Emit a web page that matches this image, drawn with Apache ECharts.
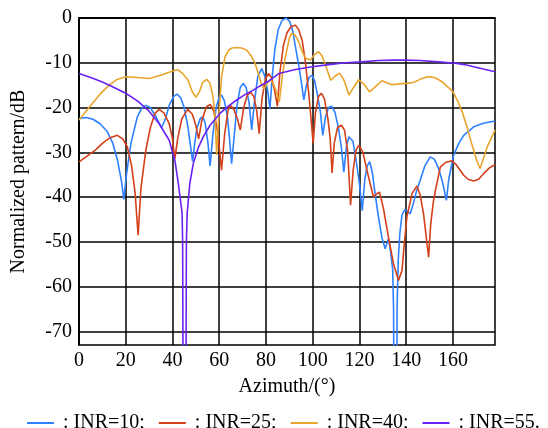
<!DOCTYPE html>
<html>
<head>
<meta charset="utf-8">
<script src="https://cdn.jsdelivr.net/npm/echarts@6/dist/echarts.min.js"></script>
<style>html,body{margin:0;padding:0;background:#fff;}#c{width:548px;height:428px;}</style>
</head>
<body>
<div id="c"></div>
<script>
const seriesNames = [': INR=10;', ': INR=25;', ': INR=40;', ': INR=55.'];
const xTicks = [0, 20, 40, 60, 80, 100, 120, 140, 160];
const yTicks = [0, -10, -20, -30, -40, -50, -60, -70];

const inr10 = [[0,-22.4],[3,-22.2],[6,-22.6],[9,-23.6],[12,-25.3],[14.5,-28],[16.5,-31.8],[18.2,-36.5],[19.2,-40.5],[20.3,-35],[22.2,-28],[25,-22],[27,-20],[28.6,-19.5],[30.5,-20],[32.9,-22],[35.3,-24.5],[37,-22.5],[38.6,-19.5],[40.5,-17.5],[42,-17],[43.5,-17.8],[45,-20],[46.5,-24],[47.7,-28.5],[48.6,-32],[49.5,-28],[50.5,-24.5],[52,-22.3],[53,-22.1],[54,-23.5],[55.2,-28],[56.1,-33],[57.3,-26],[58.7,-20],[60,-17.6],[61,-17.2],[62.2,-18.5],[63.5,-22],[64.5,-27.5],[65.3,-32.5],[66.3,-27],[67.6,-19.5],[69,-15.5],[70.3,-14.6],[71.5,-15.5],[72.8,-19],[73.9,-25],[75,-19],[76.5,-13],[78.2,-11.3],[79.5,-13],[80.8,-16.5],[81.7,-20.2],[82.7,-13],[83.8,-7],[85.3,-2.5],[86.8,-0.6],[88.6,0],[90.2,-0.8],[91.5,-3],[92.6,-6.4],[94,-10.5],[95.2,-14.5],[96.2,-18.3],[97.3,-15],[98.5,-13.2],[99.7,-12.8],[100.8,-14],[102,-17],[103.3,-21],[104.3,-26.2],[105.5,-22],[106.8,-20],[108.1,-19.7],[109.5,-21],[111,-24.5],[112.3,-29],[113.3,-34.4],[114.5,-28.5],[115.5,-26.5],[116.2,-26.2],[117.2,-27.5],[118.5,-31.5],[120,-37],[121.2,-43],[122.3,-36],[123.3,-33],[124.4,-32.1],[125.5,-34.5],[126.7,-39.2],[128,-44],[129.6,-49],[131,-51.5],[132.4,-49.3],[133.3,-52],[134.2,-56],[134.6,-65],[134.7,-80],[135.35,-120],[136.0,-80],[136.1,-65],[136.6,-54],[137.3,-48],[138.2,-44],[139.3,-42.8],[140.3,-43],[141.7,-43.7],[143,-41.5],[144.5,-38.5],[146,-36.2],[148,-33],[150.3,-31],[152,-31.5],[153.8,-33.5],[155.5,-36.5],[157.2,-40.7],[158.2,-36],[160.3,-30.6],[162.5,-28],[164.6,-26.2],[168.9,-24.3],[173,-23.5],[178,-23]];

const inr25 = [[0,-32.1],[3,-31],[7,-29.5],[10,-28],[13,-26.8],[16.4,-26.2],[18.7,-27],[20.7,-28.8],[22.5,-33],[24,-39],[25.3,-48.5],[26.5,-38],[28.6,-29.5],[30.5,-24.5],[32.5,-21.3],[34.3,-20.4],[36.3,-21.2],[38.6,-23.6],[40,-27],[41,-31.5],[42.2,-27],[44,-22.5],[46.5,-20.4],[48.5,-21.5],[50,-24],[51.2,-27],[52.5,-23],[54.5,-19.8],[56.2,-19.3],[57.8,-21],[59.5,-26],[61,-34],[62.3,-26],[63.8,-20.5],[64.9,-19.5],[66.3,-20.5],[67.8,-22.5],[69,-25],[70.5,-20],[72,-17.2],[73.4,-16.6],[74.8,-17.5],[76,-20.5],[77.1,-25.8],[78.3,-18],[79.8,-13.5],[81.2,-12.4],[82.5,-13.5],[83.8,-16.5],[84.9,-19.7],[86,-12],[87.5,-6],[89,-3.3],[90.8,-1.9],[92.6,-1.6],[94,-2.6],[95.5,-5],[96.8,-9.5],[98.3,-16.8],[99.2,-22],[100.2,-28],[101.2,-21],[102.5,-17.5],[103.7,-16.8],[105,-18],[106.5,-22.5],[107.5,-27],[108.3,-34.6],[109.2,-28],[110.6,-24.5],[112.2,-23.9],[113.6,-25],[115,-30],[116.2,-41.8],[117.3,-34],[118.5,-29.5],[119.8,-28.4],[121.5,-30],[123,-33.5],[124.6,-37],[126,-40],[127.3,-39.3],[128.6,-38.9],[130.3,-42.6],[132.4,-48.9],[134.6,-54.9],[136.7,-58.6],[138.2,-56.4],[139.2,-50.4],[140.3,-44.4],[142.5,-39.2],[144.6,-37.5],[146,-39.5],[147.5,-44],[148.7,-49.5],[149.6,-53.4],[150.5,-46],[151.5,-41.5],[152.5,-38.5],[154.6,-33.3],[157,-32.2],[159.6,-31.9],[161.5,-32.8],[164.6,-35.1],[166.5,-36],[168.9,-36.4],[171,-36],[173.2,-34.7],[175.5,-33.5],[178,-32.7]];

const inr40 = [[0,-22.8],[3,-20.8],[5.7,-19.1],[9,-17],[12.9,-15],[16,-13.8],[20,-13.1],[25,-13.3],[30,-13.5],[35,-12.8],[38,-12.2],[41.4,-11.6],[42.4,-11.6],[44.5,-12.5],[46.7,-13.9],[48.5,-16.5],[50,-17.7],[51.5,-16.5],[53,-14.3],[54.6,-13.7],[56,-14.5],[57.3,-17.5],[58.2,-22],[58.9,-30.6],[59.8,-22],[61,-13.1],[62.5,-8.6],[64,-7.2],[65.5,-6.7],[67.5,-6.6],[69.5,-6.7],[71.8,-7.2],[73.5,-8.3],[75.3,-10.1],[76.8,-12.5],[78.2,-15],[79.3,-15.8],[80.5,-14.5],[81.8,-13.8],[83,-14.5],[84.5,-16.5],[85.7,-18.7],[87,-13],[88,-9.5],[89,-7],[90,-4.5],[90.9,-3.4],[92.5,-3.8],[94,-5.3],[95.5,-7.5],[97,-9],[99,-9.4],[100.5,-8.3],[102.5,-7.5],[104,-8.5],[105.8,-11],[107.7,-13.9],[109.5,-13],[111.5,-12.3],[113.5,-14],[115.5,-17.2],[117.5,-15.5],[119.7,-13.8],[122,-14.8],[124.3,-16.5],[126.5,-15.5],[129.6,-14],[132,-14.5],[134,-14.9],[137,-14.7],[140,-14.6],[143,-14.4],[146,-13.7],[148.5,-13.2],[150.7,-13.1],[153,-13.5],[155.5,-14.3],[158,-15.5],[160,-16.5],[162,-18.5],[164,-21],[166,-24.3],[168,-28],[170,-31.5],[171.6,-33.6],[173,-31.5],[174.5,-29],[176,-27.3],[178,-25]];

const inr55 = [[0,-12.4],[5,-13.3],[10,-14.3],[15,-15.5],[20,-16.8],[25,-18.5],[30,-20.8],[34.3,-23.6],[38.6,-27.3],[41.1,-32],[42.5,-37],[43.5,-41],[44.1,-43.5],[44.35,-50],[44.5,-75],[45.15,-120],[45.8,-75],[45.95,-50],[46.3,-43.5],[47.4,-37],[48.9,-32.5],[51,-29],[53.1,-26.6],[56,-24],[60.3,-21.3],[64,-19.6],[67.5,-18.3],[71,-17.1],[74.6,-16.1],[78,-15],[81.4,-14],[85.5,-12.4],[92.6,-11.5],[99.7,-10.9],[106.9,-10.4],[114,-10],[120.9,-9.8],[128,-9.5],[135,-9.4],[139.6,-9.4],[146,-9.5],[153.9,-9.8],[161,-10.1],[165,-10.4],[168.9,-10.9],[173,-11.4],[178,-12]];

const colors = ['#2f80ff', '#d4401a', '#e8a42c', '#6a22f5'];
const allData = [inr10, inr25, inr40, inr55];
const FONT = 'Liberation Serif';

const chart = echarts.init(document.getElementById('c'), null, {renderer: 'canvas'});
chart.setOption({
  animation: false,
  backgroundColor: '#fff',
  color: colors,
  grid: {left: 79, top: 18, right: 53, bottom: 83, show: true, borderColor: '#000', borderWidth: 1.5, backgroundColor: 'transparent'},
  legend: {
    left: 22, top: 408, itemWidth: 27, itemHeight: 2, itemGap: 14, icon: 'rect',
    textStyle: {fontFamily: FONT, fontSize: 20, color: '#000', padding: [0,0,0,4]},
    data: seriesNames
  },
  xAxis: {
    type: 'value', min: 0, max: 178,
    name: 'Azimuth/(°)', nameLocation: 'middle', nameGap: 32,
    nameTextStyle: {fontFamily: FONT, fontSize: 20, color: '#000'},
    axisLine: {show: true, lineStyle: {color: '#000', width: 1.5}},
    axisTick: {show: false, customValues: xTicks},
    axisLabel: {customValues: xTicks, fontFamily: FONT, fontSize: 20, color: '#000', margin: 6},
    splitLine: {show: true, lineStyle: {color: '#000', width: 1.5}}
  },
  yAxis: {
    type: 'value', min: -73, max: 0,
    name: 'Normalized pattern/dB', nameLocation: 'middle', nameGap: 50,
    nameTextStyle: {fontFamily: FONT, fontSize: 20, color: '#000'},
    axisLine: {show: true, lineStyle: {color: '#000', width: 1.5}},
    axisTick: {show: false, customValues: yTicks},
    axisLabel: {customValues: yTicks, fontFamily: FONT, fontSize: 20, color: '#000', margin: 7},
    splitLine: {show: true, lineStyle: {color: '#000', width: 1.5}}
  },
  series: allData.map((d, i) => ({
    name: seriesNames[i], type: 'line', data: d, showSymbol: false, symbol: 'none',
    clip: true, lineStyle: {width: 1.6, color: colors[i]}, itemStyle: {color: colors[i]}
  }))
});
</script>
</body>
</html>
